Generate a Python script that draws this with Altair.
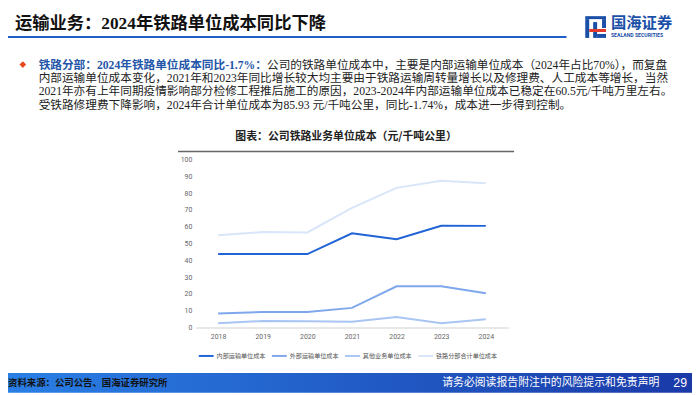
import altair as alt
import pandas as pd

# ---------------- data ----------------
years = ["2018", "2019", "2020", "2021", "2022", "2023", "2024"]
series_names = ["内部运输单位成本", "外部运输单位成本", "其他业务单位成本", "铁路分部合计单位成本"]
internal = [43.7, 43.7, 43.7, 56.1, 52.5, 60.6, 60.5]
external = [8.4, 9.2, 9.2, 11.7, 24.5, 24.5, 20.4]
other = [2.5, 3.9, 3.7, 3.5, 6.3, 2.5, 4.9]
total = [54.9, 56.8, 56.6, 71.2, 83.1, 87.4, 85.9]
y_ticks = [0, 10, 20, 30, 40, 50, 60, 70, 80, 90, 100]
series_colors = ["#1f63d6", "#7fa7ec", "#a9c5f3", "#d9e6f9"]

slide_title = "运输业务：2024年铁路单位成本同比下降"
chart_title = "图表：公司铁路业务单位成本（元/千吨公里）"
para_head = "铁路分部：2024年铁路单位成本同比-1.7%："
para_lines = [
    "公司的铁路单位成本中，主要是内部运输单位成本（2024年占比70%），而复盘",
    "内部运输单位成本变化，2021年和2023年同比增长较大均主要由于铁路运输周转量增长以及修理费、人工成本等增长，当然",
    "2021年亦有上年同期疫情影响部分检修工程推后施工的原因，2023-2024年内部运输单位成本已稳定在60.5元/千吨万里左右。",
    "受铁路修理费下降影响，2024年合计单位成本为85.93 元/千吨公里，同比-1.74%，成本进一步得到控制。",
]
source_text = "资料来源：公司公告、国海证券研究所"
disclaimer = "请务必阅读报告附注中的风险提示和免责声明"
page_no = "29"
logo_cn = "国海证券"
logo_en = "SEALAND SECURITIES"

rows = []
for name, vals in zip(series_names, [internal, external, other, total]):
    for yr, v in zip(years, vals):
        rows.append({"year": yr, "series": name, "value": v})
df = pd.DataFrame(rows)
one = pd.DataFrame({"k": [0]})

# ---------------- layout helpers ----------------
W, H = 316, 170
OX, OY = 198, 159  # page position of plot origin


def px(X):
    return X - OX


def py(Y):
    return Y - OY


SERIF_CJK = "Liberation Serif, Noto Sans CJK SC"
CJK = "Noto Sans CJK SC"


def text_layer(txt, X, Y, size, color, weight="normal", font=SERIF_CJK, align="left"):
    return alt.Chart(one).mark_text(
        text=txt, fontSize=size, color=color, fontWeight=weight, font=font,
        align=align, baseline="middle"
    ).encode(x=alt.value(px(X)), y=alt.value(py(Y)))


def rect_layer(X1, X2, Y1, Y2, fill):
    return alt.Chart(one).mark_rect(fill=fill, strokeWidth=0).encode(
        x=alt.value(px(X1)), x2=alt.value(px(X2)),
        y=alt.value(py(Y1)), y2=alt.value(py(Y2))
    )


def hrule(X1, X2, Y, color, width):
    return alt.Chart(one).mark_rule(color=color, strokeWidth=width).encode(
        x=alt.value(px(X1)), x2=alt.value(px(X2)), y=alt.value(py(Y))
    )


layers = []
# slide header
layers.append(text_layer(slide_title, 15, 22, 17.5, "#111111", weight="bold"))
layers.append(hrule(8, 573, 35, "#1f5fc8", 2))
# logo
BLUE = "#1a4fa8"
layers.append(rect_layer(592, 613, 14, 17, BLUE))
layers.append(rect_layer(592, 596, 17, 36, BLUE))
layers.append(rect_layer(600, 604, 20, 36, BLUE))
layers.append(rect_layer(609, 613, 17, 26, BLUE))
layers.append(rect_layer(596, 613, 27, 30, "#e23b2e"))
layers.append(rect_layer(604, 613, 32, 36, BLUE))
layers.append(text_layer(logo_cn, 618, 21, 15.5, BLUE, weight="bold", font=CJK))
layers.append(text_layer(logo_en, 618, 33, 5.2, BLUE, weight="bold", font="Roboto"))

# bullet paragraph
layers.append(alt.Chart(one).mark_point(shape="diamond", filled=True, size=45, color="#e8481c", opacity=1)
              .encode(x=alt.value(px(23)), y=alt.value(py(63))))
layers.append(text_layer(para_head, 39, 63.3, 11.8, "#2356a8", weight="bold"))
layers.append(text_layer(para_lines[0], 270, 63.3, 11.8, "#222222"))
for i, ln in enumerate(para_lines[1:]):
    layers.append(text_layer(ln, 39, 76.7 + 13.4 * i, 11.8, "#222222"))

# chart title and rule
layers.append(text_layer(chart_title, 350, 136, 11, "#222222", weight="bold", font=CJK, align="center"))
layers.append(hrule(180, 520, 151, "#666666", 1.5))

# footer
grad = alt.LinearGradient(
    gradient="linear",
    stops=[alt.GradientStop(color="#2a80e6", offset=0), alt.GradientStop(color="#1a3aa8", offset=1)],
    x1=0, x2=1, y1=0, y2=0,
)
layers.append(rect_layer(0, 700, 375, 395, grad))
layers.append(text_layer(source_text, 8, 385, 9.5, "#111111", weight="bold", font=CJK))
layers.append(text_layer(disclaimer, 667, 385, 11, "#ffffff", font=CJK, align="right"))
layers.append(text_layer(page_no, 695, 385, 12.5, "#ffffff", font="Liberation Sans", align="right"))

# ---------------- line chart ----------------
lines = alt.Chart(df).mark_line(strokeWidth=2).encode(
    x=alt.X("year:O", sort=years, title=None,
            axis=alt.Axis(labelAngle=0, labelFontSize=7, labelColor="#666666", labelFont="Roboto",
                          ticks=False, domainColor="#d0d0d0", domainWidth=1, labelPadding=5, grid=False)),
    y=alt.Y("value:Q", scale=alt.Scale(domain=[0, 100]), title=None,
            axis=alt.Axis(values=y_ticks, labelFontSize=7, labelColor="#666666", labelFont="Roboto",
                          ticks=False, domain=False, grid=False, labelPadding=4)),
    color=alt.Color("series:N", scale=alt.Scale(domain=series_names, range=series_colors),
                    legend=alt.Legend(title=None, orient="none", legendX=2, legendY=190,
                                      direction="horizontal", columns=4, symbolType="stroke",
                                      symbolSize=225, symbolStrokeWidth=2, labelFontSize=6.2,
                                      labelFont=CJK, labelColor="#555555", labelOffset=2,
                                      columnPadding=2, padding=0)),
)

chart = alt.layer(*layers, lines).properties(
    width=W, height=H,
    autosize=alt.AutoSizeParams(type="none"),
    padding={"left": 190, "top": 151, "right": 186, "bottom": 66},
).configure_view(stroke=None)

chart.save("out.html", embed_options={"renderer": "svg", "actions": False})
